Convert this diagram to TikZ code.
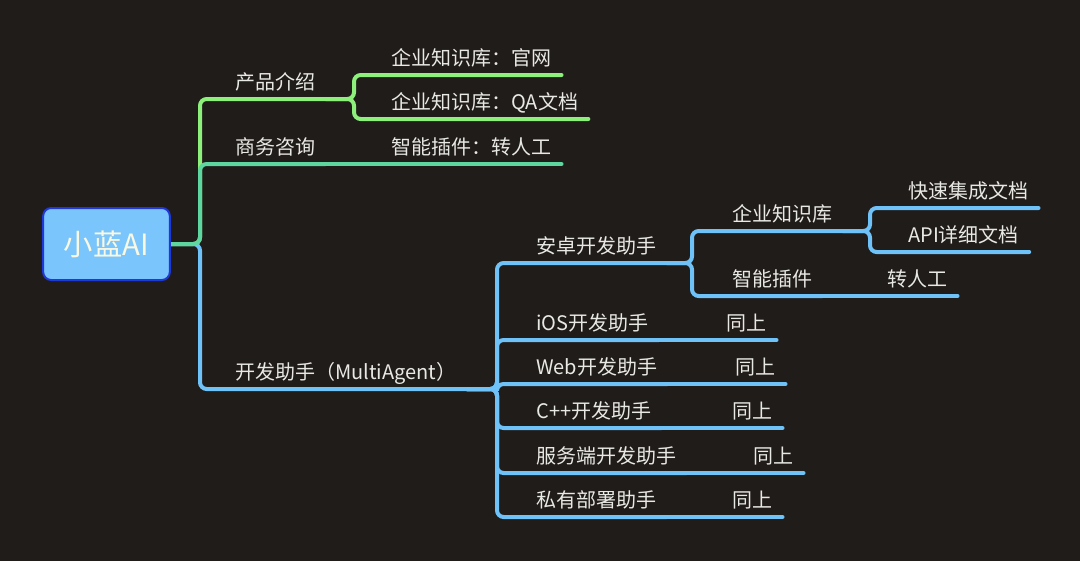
\documentclass[tikz,border=0pt]{standalone}
\usepackage{fontspec}
\setmainfont{Noto Sans CJK SC}
\usetikzlibrary{backgrounds}
\definecolor{bgdark}{HTML}{201C1A}
\definecolor{labelgray}{HTML}{E8E8E4}
\definecolor{rootfill}{HTML}{7AC5FB}
\definecolor{rootedge}{HTML}{2038D6}
\definecolor{roottext}{HTML}{FBF8E2}
\definecolor{greenline}{HTML}{8CF07A}
\definecolor{tealline}{HTML}{5DD6A0}
\definecolor{blueline}{HTML}{6EC2F7}
\tikzset{
	rootbox/.style={
			draw=rootedge, line width=1.5pt, fill=rootfill, rounded corners=6pt,
			minimum width=95pt, minimum height=54pt, text=roottext,
			font=\fontsize{22}{26}\selectfont
		},
	topic/.style={
			anchor=south west, inner xsep=7.5pt, inner ysep=0pt,
			text height=12pt, text depth=7pt, text=labelgray,
			font=\fontsize{15}{18}\selectfont
		},
	link/.style={line width=3pt, rounded corners=5pt, line cap=round}
}

\begin{document}
\begin{tikzpicture}[x=0.75pt,y=-0.75pt]
	\node[rootbox] (root) at (106.5,244) {小蓝AI};

	\node[topic] (prod) at (225,99) {产品介绍};
	\node[topic] (biz) at (225,164) {商务咨询};
	\node[topic] (dev) at (225,389) {开发助手（MultiAgent）};

	\node[topic] (site) at (381,75) {企业知识库：官网};
	\node[topic] (qa) at (381,119) {企业知识库：QA文档};
	\node[topic] (plug) at (381,164) {智能插件：转人工};

	\node[topic] (andr) at (526,263) {安卓开发助手};
	\node[topic] (ios) at (526,340) {iOS开发助手};
	\node[topic] (web) at (526,384) {Web开发助手};
	\node[topic] (cpp) at (526,428) {C++开发助手};
	\node[topic] (srv) at (526,473) {服务端开发助手};
	\node[topic] (priv) at (526,517) {私有部署助手};

	\node[topic] (kb) at (722,231) {企业知识库};
	\node[topic] (andplug) at (722,296) {智能插件};
	\node[topic] (fast) at (898,208) {快速集成文档};
	\node[topic] (api) at (898,252) {API详细文档};
	\node[topic] (human) at (877,296) {转人工};

	\node[topic] (iosu) at (716,340) {同上};
	\node[topic] (webu) at (725,384) {同上};
	\node[topic] (cppu) at (722,428) {同上};
	\node[topic] (srvu) at (743,473) {同上};
	\node[topic] (privu) at (722,517) {同上};

	\begin{scope}[on background layer]
		\fill[bgdark] (0,0) rectangle (1080,561);

		% blue branch
		\draw[link,blueline] (dev.south east) -- (dev.south west) -- ++(-25,0) |- (root.east);
		\foreach \c in {andr,ios,web,cpp,srv,priv}
		\draw[link,blueline] (\c.south east) -- (\c.south west) -- ++(-29,0) |- (dev.south east);
		\foreach \c in {kb,andplug}
		\draw[link,blueline] (\c.south east) -- (\c.south west) -- ++(-30,0) |- (andr.south east);
		\foreach \c in {fast,api}
		\draw[link,blueline] (\c.south east) -- (\c.south west) -- ++(-28,0) |- (kb.south east);
		\foreach \a/\b in {andplug/human,ios/iosu,web/webu,cpp/cppu,srv/srvu,priv/privu}
		\draw[link,blueline] (\b.south east) -- (\a.south east);

		% green branch
		\draw[link,greenline] (prod.south east) -- (prod.south west) -- ++(-25,0) |- (root.east);
		\foreach \c in {site,qa}
		\draw[link,greenline] (\c.south east) -- (\c.south west) -- ++(-27,0) |- (prod.south east);

		% teal branch
		\draw[link,tealline] (biz.south east) -- (biz.south west) -- ++(-25,0) |- (root.east);
		\draw[link,tealline] (plug.south east) -- (biz.south east);
	\end{scope}
\end{tikzpicture}
\end{document}
